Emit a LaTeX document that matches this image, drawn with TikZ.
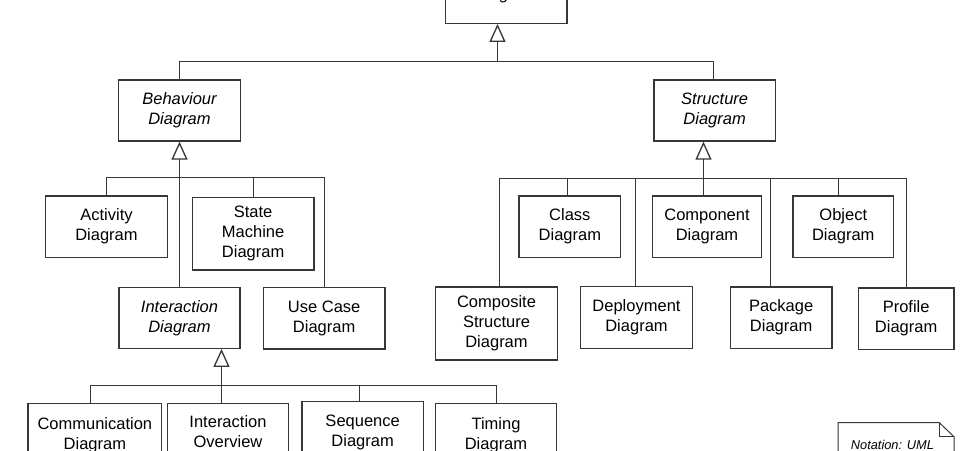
\documentclass[tikz,border=0pt]{standalone}
\usepackage{fontspec}
\setmainfont{Liberation Sans}
\usetikzlibrary{arrows.meta}
\definecolor{linec}{RGB}{55,55,55}
\begin{document}
\begin{tikzpicture}[x=1pt,y=-1pt,
  box/.style={draw=linec, line width=1.3pt, fill=white, align=center, inner sep=0pt,
    font=\fontsize{16.5}{20}\selectfont},
  absbox/.style={box, font=\fontsize{16.5}{20}\selectfont\itshape},
  link/.style={draw=linec, line width=1.3pt},
  gen/.style={link, line join=miter, -{Triangle[open, length=18pt, width=16pt]}}]
\useasboundingbox (0,0) rectangle (980,450);
\clip (0,0) rectangle (980,450);
\fill[white] (0,0) rectangle (980,450);

% boxes
\node[absbox, minimum width=121.3pt, minimum height=56.9pt] (top) at (506.35,-5.15) {Diagram};
\node[absbox, minimum width=122pt, minimum height=61pt] (beh) at (179.5,110.5) {Behaviour\\Diagram};
\node[absbox, minimum width=121.3pt, minimum height=61pt] (str) at (714.65,110.5) {Structure\\Diagram};

\node[box, minimum width=121.6pt, minimum height=61.3pt] (act) at (106.5,226.65) {Activity\\Diagram};
\node[box, minimum width=121.7pt, minimum height=72.7pt] (sm) at (253.15,233.65) {State\\Machine\\Diagram};
\node[absbox, minimum width=121pt, minimum height=61pt] (int) at (179.5,317.8) {Interaction\\Diagram};
\node[box, minimum width=121.7pt, minimum height=61.7pt] (uc) at (324.15,318.15) {Use Case\\Diagram};

\node[box, minimum width=133.7pt, minimum height=63.4pt] (comm) at (94.85,435) {Communication\\Diagram};
\node[box, minimum width=121.4pt, minimum height=56pt] (io) at (228,431.3) {Interaction\\Overview};
\node[box, minimum width=121.3pt, minimum height=60.6pt] (seq) at (362.65,432) {Sequence\\Diagram};
\node[box, minimum width=121.4pt, minimum height=63.4pt] (tim) at (496,435) {Timing\\Diagram};

\node[box, minimum width=101.7pt, minimum height=61.3pt] (cls) at (569.85,226.65) {Class\\Diagram};
\node[box, minimum width=109.4pt, minimum height=61.3pt] (cmp) at (707,226.65) {Component\\Diagram};
\node[box, minimum width=100.5pt, minimum height=61.3pt] (obj) at (843.25,226.65) {Object\\Diagram};
\node[box, minimum width=121.6pt, minimum height=73pt] (csd) at (496.5,323.5) {Composite\\Structure\\Diagram};
\node[box, minimum width=111.6pt, minimum height=61.6pt] (dep) at (636.5,317.5) {Deployment\\Diagram};
\node[box, minimum width=101.7pt, minimum height=61.3pt] (pkg) at (781.15,317.65) {Package\\Diagram};
\node[box, minimum width=95.7pt, minimum height=61.3pt] (prf) at (906.15,318.65) {Profile\\Diagram};

% top level
\coordinate (tb) at (497.5,61.5);
\draw[gen] (tb) -- (tb |- top.south);
\draw[link] (beh) |- (tb);
\draw[link] ([xshift=-1.15pt]str.north) |- (tb);

% behaviour
\coordinate (bb) at (179.5,177.5);
\draw[gen] (bb) -- (beh.south);
\draw[link] (act) |- (bb);
\draw[link] (sm) |- (bb);
\draw[link] (uc) |- (bb);
\draw[link] (bb) -- (bb |- int.north);

% interaction
\coordinate (ib) at (221.5,385.5);
\draw[gen] (ib) -- (ib |- int.south);
\draw[link] (ib) -- (ib |- io.north);
\draw[link] ([xshift=-4.35pt]comm.north) |- (ib);
\draw[link] ([xshift=-3.15pt]seq.north) |- (ib);
\draw[link] ([xshift=0.5pt]tim.north) |- (ib);

% structure
\coordinate (sb) at (703.5,178.5);
\draw[gen] (sb) -- (sb |- str.south);
\draw[link] (sb) -- (sb |- cmp.north);
\draw[link] ([xshift=3pt]csd.north) |- (sb);
\draw[link] ([xshift=-2.35pt]cls.north) |- (sb);
\draw[link] ([xshift=-1pt]dep.north) |- (sb);
\draw[link] ([xshift=-10.65pt]pkg.north) |- (sb);
\draw[link] ([xshift=-4.75pt]obj.north) |- (sb);
\draw[link] ([xshift=0.35pt]prf.north) |- (sb);

% note
\draw[link, line width=1pt, line join=miter] (838,470) -- (838,422.7) -- (939.3,422.7) -- (954,436.7) -- (954,470);
\draw[link, line width=1pt] (939.3,422.7) -- (939.3,436.7) -- (954,436.7);
\node[anchor=base west, inner sep=0pt, font=\fontsize{12.8}{15}\selectfont\itshape] (note) at (850.7,449.9) {Notation: UML};
\end{tikzpicture}
\end{document}
